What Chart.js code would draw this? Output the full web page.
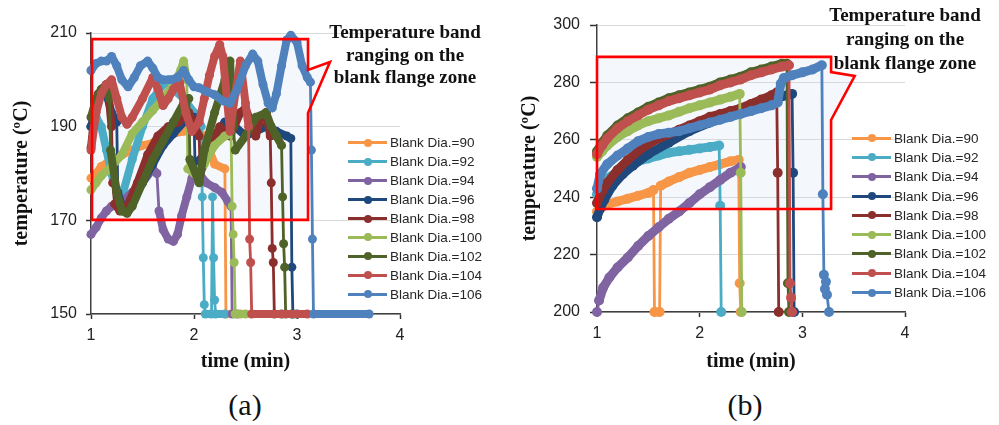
<!DOCTYPE html>
<html><head><meta charset="utf-8">
<script src="https://cdn.jsdelivr.net/npm/chart.js@4.4.1/dist/chart.umd.min.js"></script>
<style>
html,body{margin:0;padding:0;background:#fff;width:999px;height:425px;overflow:hidden;position:relative;}
#ca{position:absolute;left:0;top:0;}
#cb{position:absolute;left:500px;top:0;}
.note{position:absolute;font-family:"Liberation Serif","DejaVu Serif",serif;font-weight:bold;font-size:19px;text-align:center;color:#111;white-space:nowrap;transform:translateX(-50%);}
.legend{position:absolute;font-family:"Liberation Sans",Arial,sans-serif;font-size:13.5px;color:#262626;}
.legend .row{display:flex;align-items:center;white-space:nowrap;}
.legend .sw{position:relative;width:39px;height:3px;margin-right:3px;}
.legend .sw i{position:absolute;left:16px;top:-2.5px;width:8px;height:8px;border-radius:50%;}
.cap{position:absolute;font-family:"Liberation Serif","DejaVu Serif",serif;font-size:30px;color:#111;transform:translate(-50%,-50%);}
</style></head>
<body>
<canvas id="ca" width="425" height="380"></canvas>
<canvas id="cb" width="430" height="380"></canvas>
<div class="note" style="left:405px;top:21px;line-height:22.5px;">Temperature band<br>ranging on the<br>blank flange zone</div>
<div class="note" style="left:905px;top:3px;line-height:24px;">Temperature band<br>ranging on the<br>blank flange zone</div>
<div class="legend" id="legA" style="left:348px;top:133.5px;"></div>
<div class="legend" id="legB" style="left:852px;top:128.5px;"></div>
<div class="cap" style="left:245px;top:405px;">(a)</div>
<div class="cap" style="left:745px;top:405px;">(b)</div>
<script>
// ---------- shared labels / ticks ----------
const seriesLabels = ['Blank Dia.=90','Blank Dia.=92','Blank Dia.=94','Blank Dia.=96','Blank Dia.=98','Blank Dia.=100','Blank Dia.=102','Blank Dia.=104','Blank Dia.=106'];
const seriesColors = ['#F79646','#4BACC6','#8064A2','#1F497D','#8B2F2D','#9BBB59','#4F6228','#C0504D','#4F81BD'];
const xTicks = [1,2,3,4];
const yTicksA = [150,170,190,210];
const yTicksB = [200,220,240,260,280,300];
const xTitle = 'time (min)';
const yTitle = 'temperature (ºC)';

// ---------- panel (a): [time (min), temperature (°C)] ----------
const a90 = [[1,179],[1.05,180],[1.1,181.5],[1.2,183],[1.3,184],[1.4,185],[1.5,186],[1.6,186.5],[1.7,187.5],[1.8,188.5],[1.9,189],[2.0,189.5],[2.1,188],[2.2,182],[2.3,181],[2.31,150],[2.45,150]];
const a92 = [[1,190],[1.05,192],[1.1,190],[1.15,185],[1.22,178],[1.3,175],[1.4,183],[1.5,190],[1.6,196],[1.7,199],[1.75,200],[1.8,198],[1.9,196],[2.0,193],[2.07,190],[2.08,175],[2.09,162],[2.1,152],[2.11,150],[2.17,150],[2.18,175],[2.19,162],[2.2,153],[2.21,150],[2.3,150]];
const a94 = [[1,167],[1.05,168.5],[1.1,170.5],[1.15,172],[1.2,173],[1.3,174],[1.4,176],[1.5,178],[1.6,181],[1.64,180],[1.66,172],[1.7,168],[1.75,166],[1.8,165.5],[1.84,167],[1.88,171],[1.93,175],[1.98,179],[2.05,180],[2.12,178],[2.2,177],[2.27,176],[2.33,174],[2.36,173],[2.37,150],[2.42,150]];
const a96 = [[1,190],[1.05,194],[1.1,197],[1.15,197],[1.2,193],[1.25,191],[1.26,176],[1.3,173],[1.35,172],[1.4,174],[1.5,178],[1.6,182],[1.7,186],[1.8,188.5],[1.9,191],[2.0,192],[2.01,182],[2.1,184],[2.2,188],[2.3,191],[2.4,190],[2.5,188],[2.6,189],[2.7,190],[2.8,189],[2.9,188],[2.94,187.5],[2.95,160],[2.96,150],[3.0,150]];
const a98 = [[1,185.5],[1.03,192],[1.07,197],[1.12,198],[1.17,197],[1.2,190],[1.21,178],[1.23,173.5],[1.28,172],[1.35,173],[1.45,178],[1.55,184],[1.65,188],[1.75,190],[1.85,191],[1.95,193],[2.05,188],[2.06,180],[2.15,185],[2.25,190],[2.35,188],[2.45,193],[2.5,194],[2.6,188],[2.65,192],[2.7,193],[2.74,188],[2.75,178],[2.76,164],[2.77,161],[2.78,150],[2.85,150]];
const a100 = [[1,176.5],[1.05,178],[1.1,179.5],[1.2,181.5],[1.3,184],[1.4,188.5],[1.5,191],[1.6,193.5],[1.7,196],[1.8,199],[1.87,202],[1.9,204],[1.93,200],[1.94,181],[2.0,180],[2.1,182],[2.2,186],[2.3,188],[2.36,188.5],[2.37,173],[2.38,167],[2.39,161],[2.4,150],[2.5,150]];
const a102 = [[1,192],[1.05,196],[1.1,198],[1.15,199],[1.18,196],[1.19,185],[1.25,176],[1.3,172],[1.35,171.5],[1.4,173],[1.5,178],[1.6,183],[1.7,187],[1.8,191],[1.9,195],[1.95,196],[1.96,183],[2.05,178],[2.1,185],[2.2,193],[2.3,200],[2.35,204],[2.38,190],[2.4,185],[2.5,188],[2.6,192],[2.7,193],[2.75,190],[2.8,188],[2.85,186],[2.86,175],[2.87,165],[2.88,160],[2.89,150],[2.95,150]];
const a104 = [[1,185],[1.05,193],[1.1,197],[1.15,199],[1.2,200],[1.25,196],[1.3,192],[1.35,190.5],[1.4,192],[1.5,196],[1.6,200.5],[1.65,198],[1.7,194.5],[1.75,196],[1.8,198],[1.86,199.5],[1.92,193],[1.98,189],[2.05,191],[2.1,196],[2.15,201],[2.2,205],[2.25,207.5],[2.28,205],[2.32,196],[2.35,189],[2.4,197],[2.45,204],[2.5,195],[2.53,190],[2.54,166],[2.55,161],[2.56,150],[3.1,150]];
const a106 = [[1,202],[1.05,203.5],[1.1,204],[1.15,204],[1.2,205],[1.25,203],[1.3,200],[1.36,198.5],[1.42,200.5],[1.48,203],[1.55,204],[1.6,202.5],[1.65,200.5],[1.7,200],[1.78,200],[1.84,200.5],[1.9,202],[1.95,200],[2.0,198.5],[2.05,198.3],[2.12,197.5],[2.2,196.8],[2.28,195.5],[2.35,195],[2.42,198],[2.5,203],[2.57,205.5],[2.62,204],[2.67,199],[2.72,195],[2.76,194],[2.8,197],[2.85,203],[2.9,208.5],[2.94,209.5],[3.0,208],[3.05,203],[3.1,200.5],[3.13,199.5],[3.14,185],[3.15,166],[3.16,150],[3.7,150]];

// ---------- panel (b) ----------
const b90 = [[1,235],[1.05,236.5],[1.1,237.5],[1.2,238.5],[1.3,239.5],[1.4,240.5],[1.5,241.5],[1.55,242.5],[1.56,200],[1.61,200],[1.62,244],[1.7,245.5],[1.8,247],[1.9,248.5],[2.0,249.5],[2.1,250.5],[2.2,251.5],[2.3,252.5],[2.38,253],[2.39,210],[2.4,200]];
const b92 = [[1,241],[1.05,244],[1.1,246.5],[1.2,249],[1.3,251],[1.4,252.5],[1.5,253.5],[1.6,254.5],[1.7,255.5],[1.8,256],[1.9,256.5],[2.0,257],[2.1,257.5],[2.19,258],[2.2,237],[2.21,200]];
const b94 = [[1,200],[1.02,204],[1.06,208.5],[1.12,212],[1.2,215.5],[1.3,219],[1.4,223],[1.5,226.5],[1.6,229.5],[1.7,232.5],[1.8,235],[1.9,238],[2.0,241],[2.1,243.5],[2.2,246],[2.3,248.5],[2.4,250.5]];
const b96 = [[1,233],[1.03,236],[1.07,239],[1.15,244],[1.25,248],[1.35,251],[1.5,255],[1.7,259],[1.9,263],[2.1,266],[2.3,269],[2.5,271.5],[2.7,274],[2.85,275.5],[2.9,276],[2.91,248.5],[2.92,200]];
const b98 = [[1,238],[1.05,242],[1.1,245],[1.2,249.5],[1.3,253],[1.4,256],[1.5,258.5],[1.6,260.5],[1.7,262],[1.8,263.5],[1.9,265],[2.0,266.5],[2.1,268],[2.2,269],[2.3,270],[2.4,271],[2.5,272.5],[2.6,274],[2.7,275.5],[2.75,276.5],[2.76,248.5],[2.77,200]];
const b100 = [[1,254],[1.05,256],[1.1,258],[1.2,261],[1.3,263],[1.4,265],[1.5,266.5],[1.6,267.5],[1.7,268.5],[1.8,269.8],[1.9,271],[2.0,272],[2.1,273],[2.2,274],[2.3,275],[2.39,276],[2.4,248.5],[2.41,200]];
const b102 = [[1,256],[1.05,259],[1.1,261.5],[1.2,265],[1.3,267.5],[1.4,269.5],[1.5,271.5],[1.6,273],[1.7,274.5],[1.8,275.5],[1.9,276.5],[2.0,277.5],[2.1,278.5],[2.2,280],[2.3,281],[2.4,282],[2.5,283.5],[2.6,284.5],[2.7,285.5],[2.8,286.5],[2.85,286.5],[2.86,210],[2.87,200]];
const b104 = [[1,255],[1.05,258],[1.1,260.5],[1.2,264],[1.3,266.5],[1.4,268.5],[1.5,270.5],[1.6,272],[1.7,273.5],[1.8,274.5],[1.9,275.5],[2.0,276.5],[2.1,277.5],[2.2,279],[2.3,280],[2.4,281],[2.5,282.5],[2.6,283.5],[2.7,284.5],[2.8,285.5],[2.87,286],[2.88,210],[2.89,205],[2.9,200]];
const b106 = [[1,243],[1.03,248],[1.1,251.5],[1.2,254.5],[1.3,257],[1.4,259.5],[1.5,261],[1.6,262],[1.7,262.5],[1.8,263],[1.9,264],[2.0,265],[2.1,266],[2.2,267],[2.3,268],[2.4,269],[2.5,270],[2.6,271],[2.7,272],[2.76,273],[2.79,279.5],[2.82,281.5],[2.9,282.5],[3.0,283.5],[3.1,284.5],[3.19,286],[3.2,241],[3.21,213],[3.22,208],[3.23,210.5],[3.24,206],[3.26,200]];

// callout shapes in data coordinates (annotation)
const calloutA = {x0:1.01, x1:3.107, yTop:208.7, yBot:170.1, pA:202.1, tipX:3.32, tipY:203.8, pB:192.9};
const calloutB = {x0:1.0, x1:3.28, yTop:288.9, yBot:235.9, pA:283.6, tipX:3.51, tipY:282.2, pB:266.9};

const seriesA = [a90,a92,a94,a96,a98,a100,a102,a104,a106];
const seriesB = [b90,b92,b94,b96,b98,b100,b102,b104,b106];

function makeDatasets(list, w, r){
  return list.map((arr,i)=>({
    label: seriesLabels[i],
    data: arr.map(p=>({x:p[0], y:p[1]})),
    borderColor: seriesColors[i], backgroundColor: seriesColors[i],
    pointBackgroundColor: seriesColors[i], pointBorderColor: seriesColors[i],
    pointRadius: r, pointBorderWidth: 0, pointHoverRadius: r,
    borderWidth: w, borderCapStyle:'round', borderJoinStyle:'round',
    segment: { borderWidth: ctx => Math.abs(ctx.p1.x - ctx.p0.x) < 2.5 ? 2.8 : w },
    tension: 0, clip: false, order: list.length - 1 - i
  }));
}

function calloutPlugin(c){
  function path(chart){
    const xs = chart.scales.x, ys = chart.scales.y, ctx = chart.ctx;
    const X = v=>xs.getPixelForValue(v), Y = v=>ys.getPixelForValue(v);
    ctx.beginPath();
    ctx.moveTo(X(c.x0), Y(c.yTop));
    ctx.lineTo(X(c.x1), Y(c.yTop));
    ctx.lineTo(X(c.x1), Y(c.pA));
    ctx.lineTo(X(c.tipX), Y(c.tipY));
    ctx.lineTo(X(c.x1), Y(c.pB));
    ctx.lineTo(X(c.x1), Y(c.yBot));
    ctx.lineTo(X(c.x0), Y(c.yBot));
    ctx.closePath();
  }
  return {
    id:'callout',
    beforeDatasetsDraw(chart){ const ctx=chart.ctx; ctx.save(); path(chart); ctx.fillStyle='rgba(205,220,242,0.22)'; ctx.fill(); ctx.restore(); },
    afterDatasetsDraw(chart){ const ctx=chart.ctx; ctx.save(); path(chart); ctx.strokeStyle='#ff0000'; ctx.lineWidth=2.6; ctx.lineJoin='miter'; ctx.stroke(); ctx.restore(); }
  };
}

function makeChart(id, list, yMin, yMax, yTicks, cfg){
  return new Chart(document.getElementById(id), {
    type:'line',
    data:{ datasets: makeDatasets(list, cfg.w, cfg.r) },
    options:{
      responsive:false, animation:false, devicePixelRatio:1, events:[],
      layout:{ padding:{ top:cfg.top, right:cfg.right, left:0, bottom:0 } },
      plugins:{ legend:{display:false}, tooltip:{enabled:false} },
      scales:{
        x:{ type:'linear', min:1, max:4,
            afterBuildTicks: s=>{ s.ticks = xTicks.map(v=>({value:v})); },
            ticks:{ font:{family:'"Liberation Sans", Arial, sans-serif', size:16}, color:'#222', padding:7 },
            grid:{ drawOnChartArea:false, drawTicks:true, tickLength:5, tickColor:'#333', tickWidth:1.5 },
            border:{ color:'#404040', width:1.5 },
            title:{ display:true, text:xTitle, color:'#111', font:{family:'"Liberation Serif", serif', weight:'bold', size:20}, padding:{top:0,bottom:6} },
            afterFit: s=>{ s.height = cfg.xh; } },
        y:{ type:'linear', min:yMin, max:yMax,
            afterBuildTicks: s=>{ s.ticks = yTicks.map(v=>({value:v})); },
            ticks:{ font:{family:'"Liberation Sans", Arial, sans-serif', size:16}, color:'#222', padding:cfg.ypad },
            grid:{ color:'#d9d9d9', lineWidth:1, drawTicks:true, tickLength:cfg.tl, tickColor:'#333', tickWidth:1.5 },
            border:{ color:'#404040', width:1.5 },
            title:{ display:true, text:yTitle, color:'#111', font:{family:'"Liberation Serif", serif', weight:'bold', size:20}, padding:{top:cfg.ytp, bottom:0} },
            afterFit: s=>{ s.width = cfg.yw; } }
      }
    },
    plugins:[calloutPlugin(cfg.callout)]
  });
}

makeChart('ca', seriesA, 150, 210, yTicksA, {w:8, r:4.5, top:33, right:25, xh:66, yw:91, tl:5, ypad:9, ytp:10, callout:calloutA});
makeChart('cb', seriesB, 200, 300, yTicksB, {w:9, r:5, top:25, right:25, xh:68, yw:97, tl:7, ypad:10, ytp:18, callout:calloutB});

function buildLegend(id, rowH){
  const el = document.getElementById(id);
  seriesLabels.forEach((lab,i)=>{
    const row = document.createElement('div'); row.className='row'; row.style.height=rowH+'px';
    const sw = document.createElement('span'); sw.className='sw'; sw.style.background=seriesColors[i];
    const dot = document.createElement('i'); dot.style.background=seriesColors[i]; sw.appendChild(dot);
    const t = document.createElement('span'); t.textContent = lab;
    row.appendChild(sw); row.appendChild(t); el.appendChild(row);
  });
}
buildLegend('legA', 18.9);
buildLegend('legB', 19.3);
</script>
</body></html>
